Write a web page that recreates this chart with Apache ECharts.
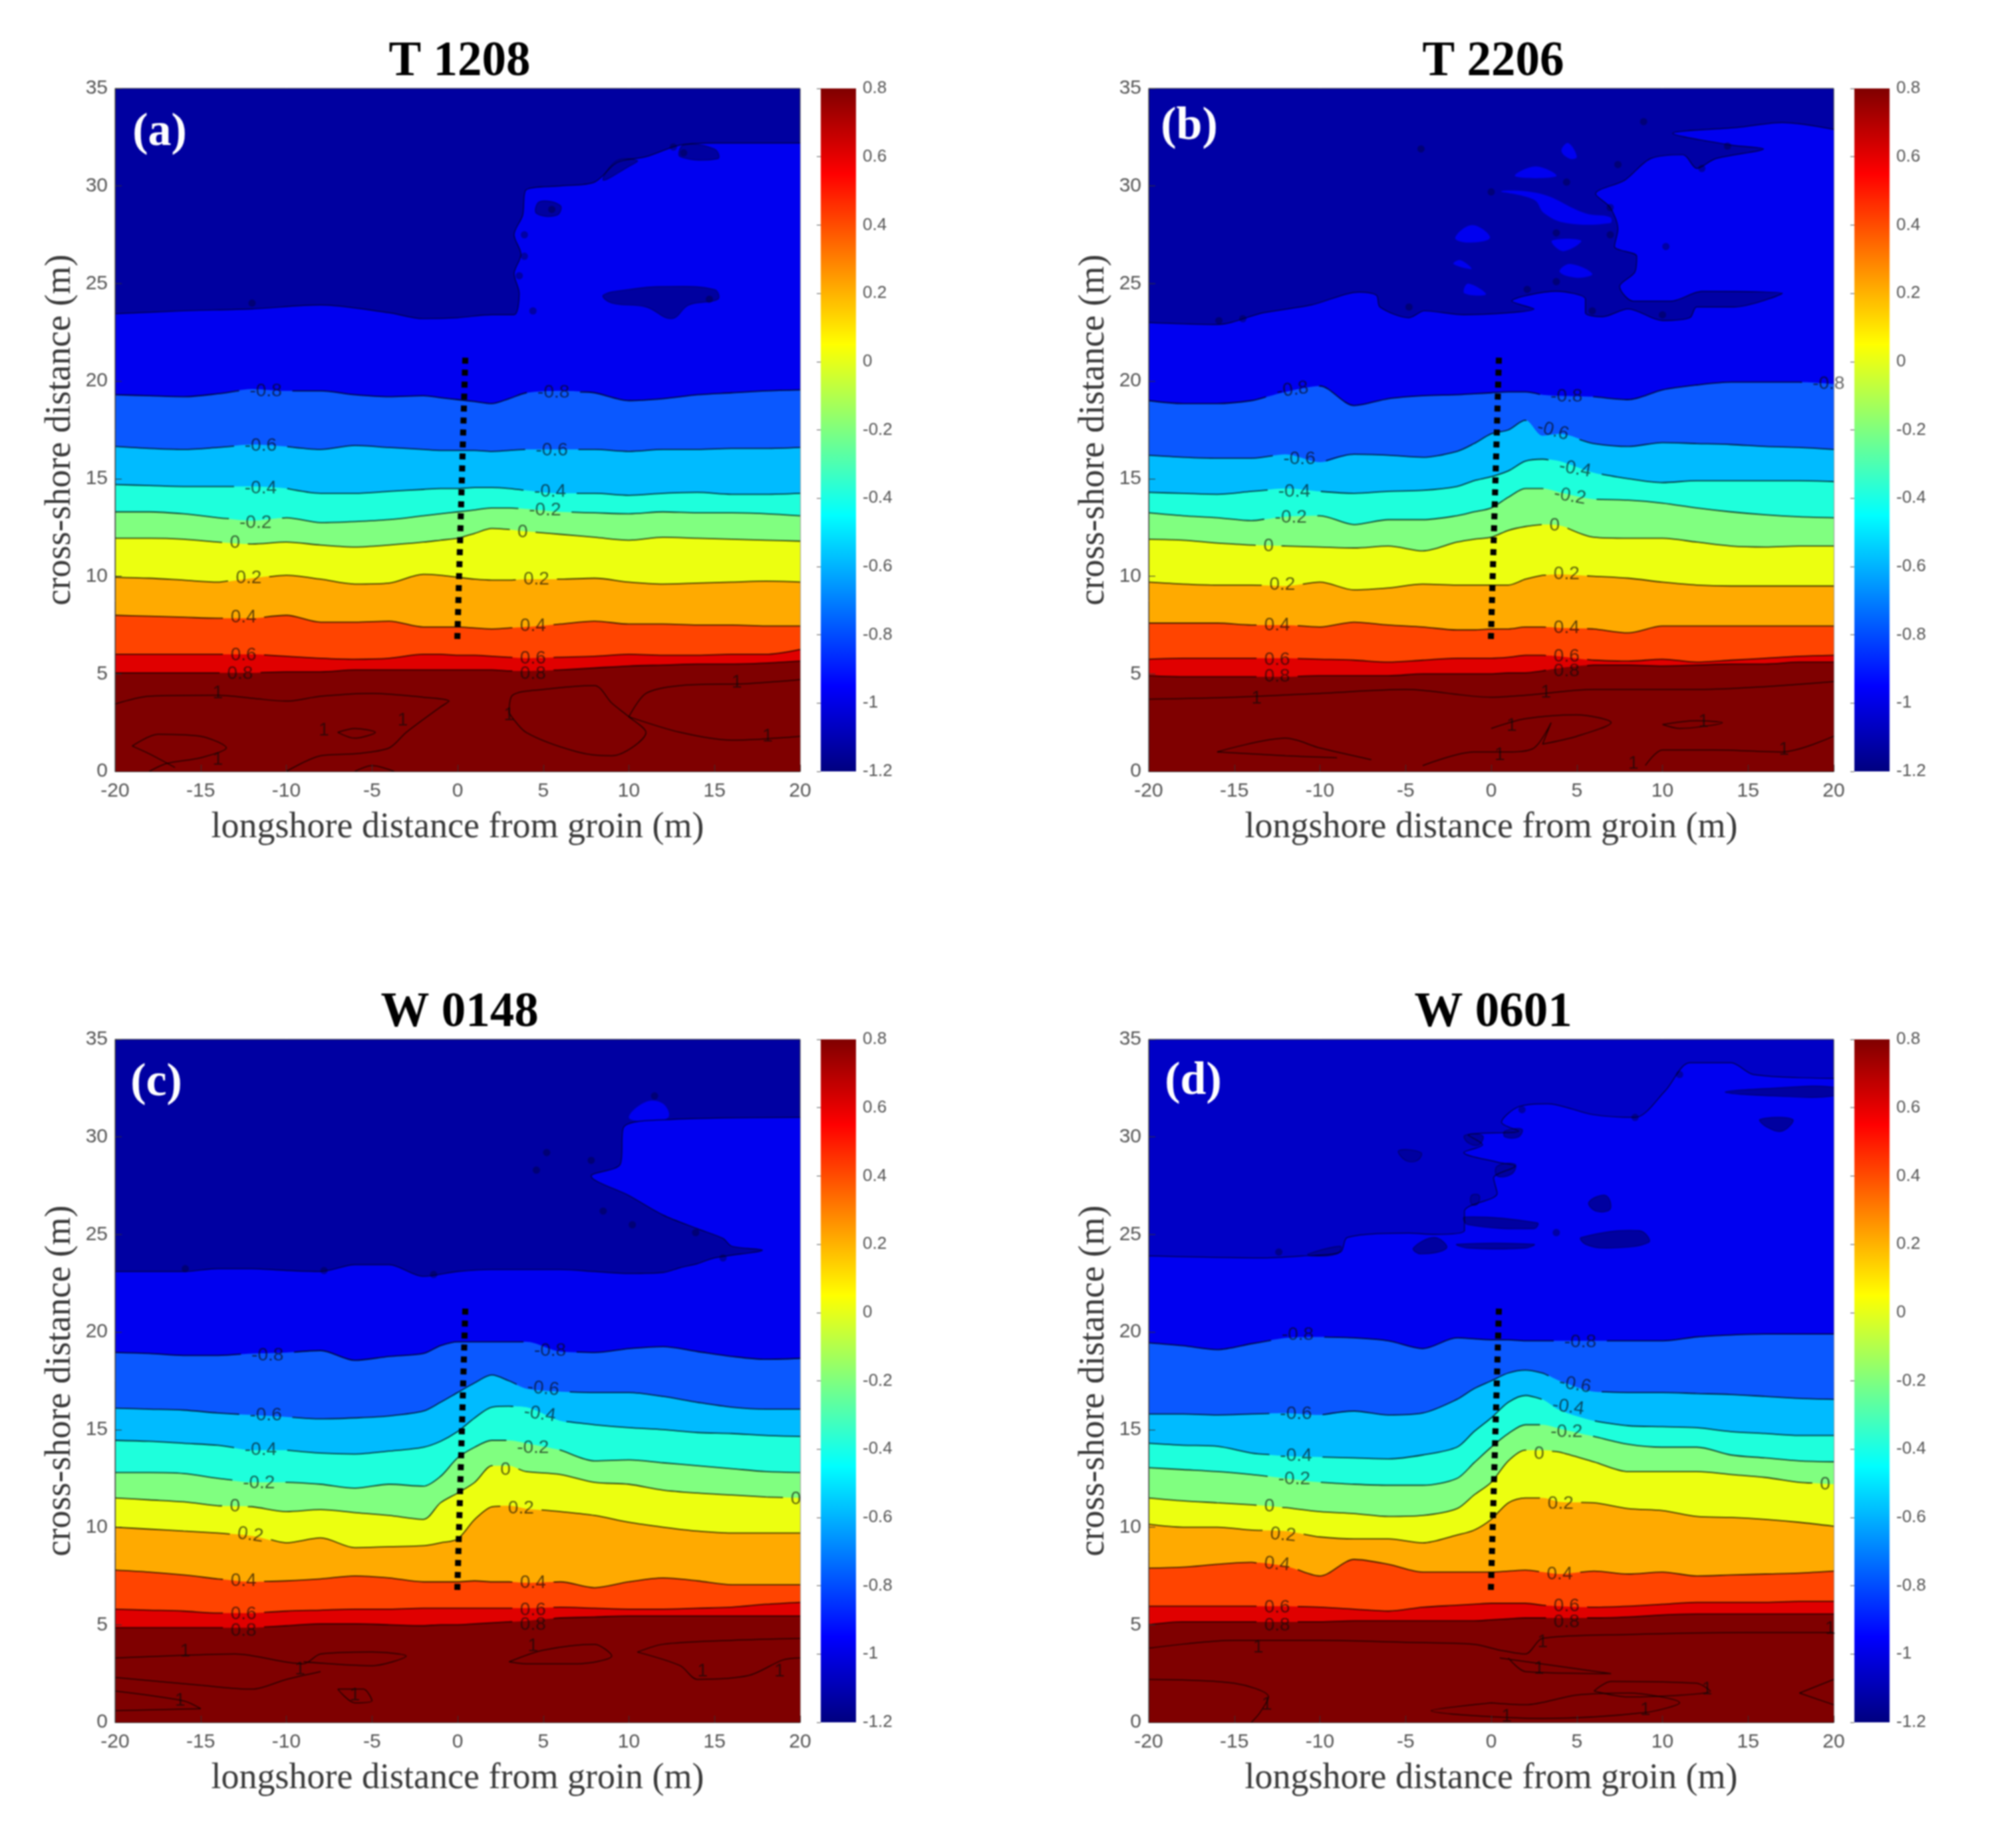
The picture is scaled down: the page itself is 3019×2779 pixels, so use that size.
<!DOCTYPE html>
<html><head><meta charset="utf-8">
<style>html,body{margin:0;padding:0;background:#fff}#c{width:3019px;height:2779px;filter:blur(1px)}</style>
<script src="https://cdn.jsdelivr.net/npm/echarts@6/dist/echarts.min.js"></script>
</head><body><div id="c"></div>
<script>
// shared longshore sample positions (m)
const xs=[-20,-18,-16,-14,-12,-10,-8,-6,-4,-2,-1,0,1,2,3,4,6,8,10,12,14,16,18,20];
const levelNames=['-0.8','-0.6','-0.4','-0.2','0','0.2','0.4','0.6','0.8'];
const navyShades=['#0000a0','#0000a5','#0000a2','#0000c6'];
const islandNavy='#0000a0';
const bandColors=['#0000f0','#0a58ff','#00bbff','#1effdc','#80ff80','#ecff10','#ffaa00','#ff4400','#e00000','#7f0000'];
const cbStops=[[0,'#000080'],[0.125,'#0000ff'],[0.375,'#00ffff'],[0.625,'#ffff00'],[0.875,'#ff0000'],[1,'#800000']];
const xTicks=[-20,20,5], yTicks=[0,35,5], cbTicks=[-1.2,0.8,0.2];

// ---- T 1208 ----
const aM10=[[-20,23.45],[-16,23.6],[-12,23.7],[-8,23.9],[-4,23.5],[-2,23.2],[0,23.25],[2,23.4],[3.3,23.4],[3.6,24.5],[3.3,25.5],[3.7,26.5],[3.3,27.5],[3.8,28.5],[4,29.8],[6,30],[8,30.2],[9.3,31.2],[11,31.5],[13,32.1],[15,32.2],[20,32.2]];
const aM08=[19.3,19.25,19.2,19.35,19.6,19.5,19.5,19.3,19.2,19.25,19.15,19.05,18.95,18.85,19.1,19.4,19.5,19.4,19,19.1,19.3,19.4,19.5,19.55];
const aM06=[16.65,16.55,16.5,16.6,16.75,16.65,16.5,16.7,16.6,16.5,16.45,16.45,16.45,16.4,16.45,16.5,16.5,16.5,16.4,16.5,16.5,16.55,16.55,16.6];
const aM04=[14.7,14.65,14.6,14.6,14.6,14.5,14.25,14.25,14.35,14.45,14.5,14.5,14.55,14.55,14.5,14.4,14.25,14.25,14.15,14.25,14.3,14.2,14.2,14.25];
const aM02=[13.3,13.3,13.2,13,12.85,13,12.75,12.8,12.9,13.1,13.2,13.3,13.4,13.5,13.5,13.45,13.3,13.25,13.2,13.3,13.25,13.25,13.2,13.1];
const aP00=[11.95,11.95,11.9,11.75,11.65,11.75,11.6,11.5,11.6,11.75,11.85,11.95,12.2,12.45,12.4,12.3,12.15,12,11.85,12,11.95,11.9,11.85,11.8];
const aP02=[9.95,9.9,9.8,9.7,9.9,10.05,9.85,9.6,9.65,10.1,10.05,9.95,9.85,9.8,9.8,9.85,9.85,9.9,9.7,9.6,9.65,9.7,9.75,9.7];
const aP04=[8,7.95,7.9,7.85,7.85,8,7.65,7.65,7.7,7.4,7.4,7.4,7.35,7.3,7.35,7.4,7.55,7.7,7.55,7.55,7.5,7.5,7.45,7.45];
const aP06=[6,6,6,6,6,5.9,5.8,5.75,5.8,6,6,5.95,5.95,5.9,5.85,5.8,5.85,5.9,6,5.95,5.95,6,6,6.25];
const aP08=[5.05,5.05,5.05,5.05,5.05,5.1,5.1,5.2,5.2,5.2,5.2,5.2,5.2,5.2,5.15,5.15,5.2,5.3,5.4,5.45,5.5,5.5,5.55,5.65];
const aIslands=[[0,[[8.5,24.4],[10,24.7],[12,24.85],[15,24.7],[15.2,24.2],[13.5,23.9],[12.5,23.2],[11,23.8],[9,24]]],[0,[[4.6,28.6],[5.8,28.5],[6,29],[4.8,29.2]]],[0,[[8.5,30.3],[10,31],[10.5,31.3],[9.3,31.3]]],[0,[[13,31.5],[15.2,31.4],[15,31.9],[13.2,32.1]]]];
const aDots=[[3.9,27.5],[3.9,26.4],[3.6,25.4],[4.4,23.6],[-12,24],[12.6,32],[13.2,31.7],[14.7,24.2],[5.5,28.8]];
const aOnes=[[[-20,3.45],[-18,3.85],[-14,3.9],[-12,3.75],[-10,3.6],[-8,3.85],[-5,4],[-2,3.8],[-0.5,3.6],[-1,3.3],[-3,2],[-4,1.2],[-6,0.9],[-8,0.8],[-10,0]],[[-19,1.3],[-17.5,1.9],[-15,1.8],[-13.5,1.2],[-15,0.7],[-17,0.4],[-18,0]],[[-19,1.3],[-18,0.9],[-16.5,0.2]],[[3,3],[3.2,3.9],[5,4.2],[8,4.4],[9,3.5],[10,2.8],[11,2],[9,0.8],[7,1],[4,2],[3,3]],[[10,2.8],[11,4],[13,4.4],[17,4.5],[20,4.7]],[[10,2.8],[13,2],[16,1.6],[20,1.8]],[[-7,2],[-6,1.7],[-4.8,2],[-6,2.2],[-7,2]],[[-6,0],[-5,0.3],[-3.7,0]]];
const aLabels=[['-0.8',-11.2,19.5],['-0.8',5.6,19.4],['-0.6',-11.5,16.7],['-0.6',5.5,16.45],['-0.4',-11.5,14.5],['-0.4',5.4,14.35],['-0.2',-11.8,12.75],['-0.2',5.1,13.4],['0',-13,11.7],['0',3.8,12.25],['0.2',-12.2,9.9],['0.2',4.6,9.85],['0.4',-12.5,7.9],['0.4',4.4,7.45],['0.6',-12.5,5.95],['0.6',4.4,5.8],['0.8',-12.7,5],['0.8',4.4,5],['1',-14,4],['1',16.3,4.55],['1',18.1,1.8],['1',-7.8,2.1],['1',-14,0.6],['1',-3.2,2.6],['1',3,2.9]];

// ---- T 2206 ----
const bM10=[[-20,23],[-16,22.9],[-13.3,23.5],[-10.5,23.9],[-7.7,24.56],[-6.7,24.4],[-6.5,23.8],[-4.8,23.25],[-3.9,23.6],[-1.6,23.4],[2.5,23.7],[1.2,24.1],[3.8,24.6],[5.5,24.2],[5.5,23.5],[6.5,23.3],[8,23.7],[10,23.1],[11.6,23.25],[12,23.8],[14.2,23.8],[17,24.5],[12.3,24.6],[10.5,24.1],[8.3,24.1],[7.5,24.85],[8.4,25.6],[8.5,26.4],[7.2,26.9],[7.4,27.8],[6.95,28.9],[6.1,29.6],[7.8,30.3],[9.3,31.4],[11.2,31.6],[12,30.9],[13.1,31.4],[15.9,31.9],[14,32.1],[10.6,32.7],[14.4,33],[17,33.25],[20,32.9]];
const bM08=[19,18.85,18.85,19,19.45,19.75,18.75,19.1,19.25,19.3,19.35,19.4,19.45,19.45,19.3,19.25,19.2,19.05,19.55,19.8,19.95,19.95,19.95,19.85];
const bM06=[16.2,16.1,16.05,16.05,16.25,15.85,16.25,16.2,16.1,16.4,16.8,17.3,17.5,18,17.2,17.3,16.8,16.65,16.85,16.8,16.75,16.65,16.6,16.5];
const bM04=[14.3,14.25,14.2,14.35,14.5,14.35,14.25,14.35,14.4,14.6,14.9,15.1,15.4,15.9,16,15.9,15.3,15,14.8,14.9,14.9,14.9,14.9,14.85];
const bM02=[13.25,13.1,13,12.85,13.05,13.1,12.65,12.9,12.9,13.1,13.3,13.5,14.05,14.5,14.5,14.3,13.95,13.9,13.75,13.5,13.3,13.15,13.05,13];
const bP00=[11.9,11.85,11.7,11.6,11.55,11.5,11.45,11.55,11.3,11.75,11.9,12,12.35,12.55,12.65,12.6,12,11.95,11.95,11.75,11.55,11.5,11.55,11.55];
const bP02=[9.7,9.6,9.55,9.55,9.5,9.7,9.3,9.4,9.6,9.55,9.55,9.55,9.55,9.85,10.05,10.1,10,9.9,9.7,9.55,9.5,9.5,9.5,9.5];
const bP04=[7.6,7.6,7.6,7.5,7.5,7.4,7.65,7.5,7.4,7.25,7.25,7.3,7.3,7.4,7.4,7.35,7.3,7.1,7.45,7.45,7.45,7.45,7.45,7.45];
const bP06=[5.75,5.8,5.8,5.8,5.8,5.75,5.7,5.6,5.7,5.8,5.8,5.8,5.85,5.95,5.95,5.9,5.7,5.65,5.75,5.6,5.7,5.8,5.9,5.95];
const bP08=[4.9,4.85,4.85,4.85,4.85,4.9,4.9,4.9,5,5,5,5,5.05,5.05,5.15,5.3,5.45,5.45,5.4,5.45,5.5,5.5,5.6,5.6];
const bIslands=[[1,[[0.57,29.73],[2.9,29.6],[5.5,28.6],[6.95,28.4],[6.95,28.1],[4.4,28.1],[3.1,28.6],[2.5,29.3]]],[1,[[1.4,30.5],[2.6,31],[3.8,30.5]]],[1,[[4.1,31.8],[4.5,32.2],[5,31.5],[4.6,31.4]]],[1,[[-2.1,27.35],[-1.1,28],[-0.07,27.35],[-1.35,27.1]]],[1,[[3.55,27.2],[5.25,27.2],[4.2,26.66]]],[1,[[4,25.6],[4.6,26],[5.9,25.5],[5,25.3]]],[1,[[-1.56,24.5],[-1.35,25],[-0.3,24.45]]],[1,[[-2.2,26],[-1.8,26.2],[-1.15,25.75]]]];
const bDots=[[-4.1,31.9],[8.9,33.3],[0,29.7],[6.95,28.9],[3.8,27.6],[6.95,27.5],[3.8,25.1],[12.3,30.9],[13.8,32.05],[-4.8,23.8],[10,23.4],[5.9,23.6],[2.1,24.7],[4.4,30.2],[7.4,31.1],[10.2,26.9],[-15.9,23.1],[-14.5,23.2]];
const bOnes=[[[-20,3.7],[-15,3.8],[-10,4],[-5,4.2],[0,3.8],[2,3.9],[6,4.2],[12,4.2],[20,4.6]],[[-16,1],[-12,1.7],[-10,1.2],[-7,0.6]],[[-16,1],[-12,0.8],[-9,0.7]],[[0,2.2],[2,2.7],[5,2.9],[7,2.5],[5,1.8],[3,1.4],[3.5,2.5],[2.5,1.2],[1,1],[-1,1],[-4,0.3]],[[10,2.4],[12,2.6],[13.5,2.5],[11,2.2],[10,2.4]],[[9,0.3],[10,1.1],[13,1.1],[17,1],[20,1.8]]];
const bLabels=[['-0.8',-11.6,19.55,8],['-0.8',4.4,19.2],['-0.8',19.7,19.85],['-0.6',-11.2,16],['-0.6',3.6,17.45,-15],['-0.4',-11.5,14.35],['-0.4',4.9,15.5,-10],['-0.2',-11.7,13],['-0.2',4.6,14.1,-10],['0',-13,11.55],['0',3.7,12.6],['0.2',-12.2,9.55],['0.2',4.4,10.1],['0.4',-12.5,7.5],['0.4',4.4,7.35],['0.6',-12.5,5.7],['0.6',4.4,5.9],['0.8',-12.5,4.85],['0.8',4.4,5.15],['1',-13.7,3.75],['1',3.2,4.05],['1',1.2,2.35],['1',12.4,2.55],['1',0.5,0.85],['1',17.1,1.1],['1',8.3,0.4]];

// ---- W 0148 ----
const cM10=[[-20,23.1],[-16,23.1],[-14,23.25],[-12,23.25],[-10,23.15],[-8,23.1],[-6,23.45],[-4,23.45],[-2,22.85],[0,23.1],[2,23.2],[6,23.2],[8,23.1],[10,23],[12,23.05],[13,23.3],[14,23.5],[15,23.8],[17.8,24.2],[16,24.4],[15.5,24.8],[14,25.3],[12,26],[10,27],[7.8,28],[9.5,28.6],[9.7,30.5],[12.6,30.9],[20,31]];
const cM08=[18.95,18.9,18.8,18.8,18.9,18.95,19.05,18.55,18.75,18.9,19.3,19.5,19.5,19.5,19.5,19.5,19,18.95,19.15,19.25,19,18.75,18.6,18.65];
const cM06=[16.1,16.05,16,15.85,15.75,15.65,15.55,15.6,15.7,15.95,16.4,16.9,17.4,17.8,17.5,17.1,16.95,16.9,16.9,16.7,16.4,16.15,16.05,16.05];
const cM04=[14.45,14.4,14.3,14.2,13.95,13.95,13.8,13.75,13.9,14.1,14.4,14.9,15.6,16.15,16.2,16.15,15.45,15.25,15.1,15,14.85,14.8,14.7,14.65];
const cM02=[12.8,12.8,12.75,12.5,12.3,12.3,12.2,12,12.2,12.1,12.6,13.55,14.1,14.45,14.45,14.3,13.95,13.4,13.45,13.3,13.15,13,12.85,12.8];
const cP00=[11.5,11.4,11.3,11.1,11.05,10.8,10.9,10.75,10.6,10.4,11.25,11.75,12.3,13.15,13.15,12.85,12.7,12.3,12.2,11.9,11.75,11.65,11.55,11.5];
const cP02=[10,9.9,9.8,9.7,9.55,9.2,9.45,8.95,9,9.05,9.2,9.4,10.4,11.05,11.1,10.95,10.8,10.6,10.25,10,9.8,9.7,9.7,9.7];
const cP04=[7.8,7.7,7.55,7.35,7.2,7.25,7.35,7.5,7.4,7.2,7.2,7.2,7.25,7.2,7.2,7.15,7.2,6.9,7.2,7.4,7.25,7.05,7.05,7.05];
const cP06=[5.8,5.75,5.7,5.6,5.6,5.7,5.75,5.8,5.8,5.85,5.85,5.85,5.85,5.85,5.85,5.85,5.9,5.85,5.8,5.8,5.85,5.9,6.05,6.15];
const cP08=[4.85,4.85,4.85,4.85,4.85,4.95,5.05,5.05,5,4.95,5,5,5.05,5.1,5.15,5.2,5.35,5.4,5.45,5.45,5.45,5.45,5.45,5.45];
const cIslands=[[1,[[10,31],[11,31.8],[12,31.7],[12.3,31],[11,30.8]]]];
const cDots=[[-15.9,23.25],[-7.8,23.15],[-1.4,22.95],[15.5,23.8],[11.5,32.1],[8.5,26.2],[10.2,25.5],[13.9,25.1],[7.8,28.8],[5.2,29.2],[4.6,28.3]];
const cOnes=[[[-20,3.3],[-17,3.4],[-13,3.5],[-9,3],[-8,3.5],[-5,3.6],[-3,3.4],[-5,2.9],[-9,3.1]],[[-20,2.3],[-15,1.9],[-12,1.7],[-10,2.2],[-8,2.6]],[[-20,0.6],[-15,0.7]],[[-20,1.6],[-16,1.1],[-15,0.7]],[[-7,1.7],[-6,1],[-5,1.1],[-5.5,1.7],[-7,1.7]],[[3,3.1],[5,3.7],[8,4],[9,3.4],[7,3],[4,3],[3,3.1]],[[10.5,3.6],[12,4],[16,4.2],[20,4.3]],[[10.5,3.6],[13,2.9],[14,2.2],[17,2.4],[19,3.2],[20,3.3]]];
const cLabels=[['-0.8',-11.1,18.8],['-0.8',5.4,19.05],['-0.6',-11.2,15.75],['-0.6',5,17.1,-5],['-0.4',-11.5,13.95],['-0.4',4.8,15.8,-8],['-0.2',-11.6,12.25],['-0.2',4.4,14.05],['0',-13,11.05],['0',2.8,12.95],['0',19.75,11.45],['0.2',-12.1,9.6,-8],['0.2',3.7,10.95],['0.4',-12.5,7.25],['0.4',4.4,7.15],['0.6',-12.5,5.55],['0.6',4.4,5.75],['0.8',-12.5,4.7],['0.8',4.4,5],['1',-15.9,3.65],['1',-9.2,2.7],['1',-16.2,1.1],['1',-6,1.4],['1',4.4,3.9],['1',14.3,2.6],['1',18.8,2.6]];

// ---- W 0601 ----
const dM10=[[-20,23.9],[-13.3,23.8],[-11,23.9],[-8.8,24.1],[-8.4,24.85],[-4.8,25.07],[-3.3,25],[-1.56,25.2],[-1.56,26.2],[0.35,27.1],[0.14,27.9],[1.4,28.5],[0.4,28.7],[-1.6,29.2],[-0.5,29.6],[-1.35,30.1],[1.6,30.3],[0.6,30.75],[1.6,31.55],[3.3,31.7],[5.9,31.15],[8.4,31],[10.15,32.35],[11.6,33.8],[14,33.8],[15.3,33.2],[20,33]];
const dM08=[19.45,19.3,19.1,19.4,19.7,19.75,19.7,19.55,19.15,19.7,19.65,19.6,19.6,19.55,19.55,19.55,19.55,19.55,19.55,19.75,19.85,19.9,19.9,19.9];
const dM06=[15.8,15.8,15.75,15.8,15.85,15.75,15.95,15.75,15.85,16.55,17.1,17.5,17.9,18.05,17.9,17.5,16.95,16.9,16.9,16.85,16.8,16.7,16.6,16.55];
const dM04=[14.3,14.2,14.15,13.8,13.65,13.6,13.55,13.5,13.7,14.1,14.9,15.6,16.4,16.75,16.55,16,15.45,15.2,15.15,15.1,14.9,14.8,14.7,14.7];
const dM02=[13.05,12.95,12.85,12.7,12.5,12.3,12.2,12.15,12.15,12.5,13.3,14.1,14.8,15.25,15.25,15.05,14.65,14.25,14.1,14.1,13.7,13.55,13.4,13.35];
const dP00=[11.5,11.35,11.25,11.15,11,10.8,10.7,10.55,10.6,10.95,11.65,12.3,13.4,13.95,13.95,13.85,13.35,12.85,12.85,12.85,12.7,12.55,12.3,12.2];
const dP02=[10.15,10,10,9.85,9.8,9.5,9.4,9.4,9.2,9.6,9.85,10.4,11.25,11.5,11.5,11.3,11.25,10.95,10.85,10.55,10.5,10.4,10.25,10.05];
const dP04=[7.9,7.95,8.1,8.2,8,7.5,8.35,8.1,7.7,7.7,7.7,7.7,7.75,7.8,7.7,7.6,7.75,7.6,7.7,7.5,7.55,7.6,7.65,7.75];
const dP06=[5.95,5.95,5.95,5.95,5.95,5.9,5.8,5.7,5.9,6,6.05,6.1,6.1,6.1,6,5.95,5.9,5.95,6.05,6.15,6.15,6.15,6.2,6.2];
const dP08=[5,5.15,5.15,5.15,5.15,5.15,5.2,5.2,5.2,5.2,5.2,5.25,5.3,5.35,5.35,5.35,5.35,5.4,5.5,5.55,5.55,5.55,5.55,5.55];
const dIslands=[[0,[[13.66,32.3],[16.5,32.5],[20,32.55],[20,32.1],[16.5,32.1]]],[0,[[15.7,30.9],[17.6,30.9],[17,30.3],[16.1,30.5]]],[0,[[5.25,24.85],[8.66,25.2],[9.2,24.6],[6.7,24.3],[5.5,24.5]]],[0,[[5.7,26.66],[6.7,27],[6.95,26.3],[6.1,26.2]]],[0,[[-1.56,25.9],[2.7,25.6],[2.5,25.3],[-1.35,25.5]]],[0,[[-2,24.5],[2.5,24.5],[2,24.3],[-1.35,24.3]]],[0,[[-4.55,24.3],[-3.3,24.85],[-2.6,24.3],[-4.1,24]]],[0,[[-10.7,24],[-8.8,24.4],[-9,24],[-10.5,23.9]]],[0,[[-1.56,30.07],[-0.5,30.07],[-0.7,29.6],[-1.35,29.7]]],[0,[[0.8,30.3],[1.8,30.4],[1.6,30],[0.8,30]]],[0,[[0.35,28.5],[1.4,28.6],[1.2,28.1],[0.35,28]]],[0,[[-1.15,27],[-0.7,27],[-0.8,26.55],[-1.15,26.55]]],[0,[[-5.4,29.3],[-4.1,29.2],[-4.3,28.8],[-5,28.8]]]];
const dDots=[[-12.4,24.1],[11,33.2],[3.8,25.1],[1.8,31.4],[8.4,31]];
const dOnes=[[[-20,3.8],[-15,4.2],[-10,4.2],[-5,4.1],[-1,4],[0.5,3.7],[2,3.5],[3,4.3],[8,4.5],[15,4.6],[20,4.6]],[[-20,2.2],[-15,2],[-13,1.3],[-13.5,0.5],[-14,0]],[[1,3.3],[2,2.6],[7,2.5],[0.5,3.3]],[[0,1],[2,0.9],[5,1.4],[8,1.5],[11,1],[9,0.5],[3,0.2],[-3.5,0.6],[0,1]],[[6,1.6],[7,2.1],[12,2],[12.8,1.6],[8,1.3],[6,1.6]],[[18,1.5],[20,2.2]],[[18,1.5],[20,0.9]]];
const dLabels=[['-0.8',-11.3,19.85],['-0.8',5.2,19.5],['-0.6',-11.4,15.8],['-0.6',4.9,17.3,-10],['-0.4',-11.4,13.65],['-0.4',4.5,16.15,-8],['-0.2',-11.5,12.45],['-0.2',4.4,14.9],['0',-12.95,11.05],['0',2.8,13.75],['0',19.5,12.2],['0.2',-12.15,9.6,-5],['0.2',4.05,11.2],['0.4',-12.5,8.1,-5],['0.4',4,7.6],['0.6',-12.5,5.9],['0.6',4.4,5.95],['0.8',-12.5,4.95],['0.8',4.4,5.15],['1',-13.6,3.85],['1',3,4.1],['1',2.8,2.75],['1',12.6,1.7],['1',-13.1,0.9],['1',0.9,0.3],['1',9,0.65],['1',19.8,4.8]];

const groinA=[[0.45,21.2],[-0.02,6.7]];
const panelTitles=['T 1208','T 2206','W 0148','W 0601'];
const panelTags=['(a)','(b)','(c)','(d)'];

const panels=[
 {box:[173,133],m10:aM10,lv:[aM08,aM06,aM04,aM02,aP00,aP02,aP04,aP06,aP08],isl:aIslands,dots:aDots,ones:aOnes,lab:aLabels,tag:[235,200]},
 {box:[1727,133],m10:bM10,lv:[bM08,bM06,bM04,bM02,bP00,bP02,bP04,bP06,bP08],isl:bIslands,dots:bDots,ones:bOnes,lab:bLabels,tag:[1783,191]},
 {box:[173,1563],m10:cM10,lv:[cM08,cM06,cM04,cM02,cP00,cP02,cP04,cP06,cP08],isl:cIslands,dots:cDots,ones:cOnes,lab:cLabels,tag:[230,1629]},
 {box:[1727,1563],m10:dM10,lv:[dM08,dM06,dM04,dM02,dP00,dP02,dP04,dP06,dP08],isl:dIslands,dots:dDots,ones:dOnes,lab:dLabels,tag:[1789,1627]}
];
const W=1030,H=1027,CBGAP=31,CBW=53;
const SANS='"Liberation Sans",Arial,sans-serif', SERIF='"Liberation Serif","Times New Roman",serif';
const lineCol='rgba(0,0,0,0.72)';
const SMOOTH=0.3;

// cut a contour polyline open around its labels (line breaks where the contour label sits)
function withGaps(pts,gaps){
  const out=[];
  const inside=x=>gaps.some(g=>x>g[0]&&x<g[1]);
  for(let i=0;i<pts.length;i++){
    const p=pts[i];
    if(i>0){
      const q=pts[i-1];
      const cuts=[];
      gaps.forEach(g=>g.forEach(c=>{if((c-q[0])*(c-p[0])<0)cuts.push(c);}));
      cuts.sort((a,b)=>a-b);
      cuts.forEach(c=>{
        const y=q[1]+(p[1]-q[1])*(c-q[0])/(p[0]-q[0]);
        const entering=!inside(c-0.001);
        out.push([c,y]);
        if(entering)out.push([c,null]);
      });
    }
    if(!inside(p[0]))out.push(p);
  }
  return out;
}

const grid=[],xAxis=[],yAxis=[],series=[],title=[];
panels.forEach((P,pi)=>{
  const [L,T]=P.box, gi=grid.length, navy=navyShades[pi];
  grid.push({left:L,top:T,width:W,height:H,show:true,borderColor:'#333',borderWidth:1,backgroundColor:navy,containLabel:false});
  xAxis.push({type:'value',gridIndex:gi,min:xTicks[0],max:xTicks[1],interval:xTicks[2],z:50,
    name:'longshore distance from groin (m)',nameLocation:'middle',nameGap:58,
    nameTextStyle:{fontFamily:SERIF,fontSize:54,color:'#3a3a3a'},
    axisLine:{show:true,onZero:false,lineStyle:{color:'#333',width:1}},axisTick:{show:true,inside:true,length:10,lineStyle:{color:'#333'}},
    splitLine:{show:false},axisLabel:{fontFamily:SANS,fontSize:30,color:'#555',margin:15}});
  yAxis.push({type:'value',gridIndex:gi,min:yTicks[0],max:yTicks[1],interval:yTicks[2],z:50,
    name:'cross-shore distance (m)',nameLocation:'middle',nameGap:55,
    nameTextStyle:{fontFamily:SERIF,fontSize:54,color:'#3a3a3a'},
    axisLine:{show:true,onZero:false,lineStyle:{color:'#333',width:1}},axisTick:{show:true,inside:true,length:10,lineStyle:{color:'#333'}},
    splitLine:{show:false},axisLabel:{fontFamily:SANS,fontSize:30,color:'#555',margin:11}});
  const base={xAxisIndex:gi,yAxisIndex:gi,silent:true,animation:false};
  const area=(data,color)=>series.push(Object.assign({},base,{type:'line',data,symbol:'none',showSymbol:false,smooth:SMOOTH,
    lineStyle:{width:0,opacity:0},areaStyle:{color,opacity:1,origin:'start'},z:2}));
  const stroke=(data,w)=>series.push(Object.assign({},base,{type:'line',data,symbol:'none',showSymbol:false,connectNulls:false,smooth:SMOOTH,
    lineStyle:{width:w||1.8,color:lineCol},z:3}));
  // level -1 then its islands
  area(P.m10,bandColors[0]);
  series.push(Object.assign({},base,{type:'custom',clip:true,z:2,data:P.isl.map((_,i)=>[i]),
    renderItem:(params,api)=>{
      const isl=P.isl[api.value(0)];
      return {type:'polygon',shape:{points:isl[1].map(p=>api.coord(p)),smooth:0.4},
        style:{fill:isl[0]===0?islandNavy:bandColors[0],stroke:isl[0]===0?'rgba(0,0,40,0.5)':'rgba(0,0,0,0)',lineWidth:1.2}};
    }}));
  stroke(P.m10,1.2);
  series.push(Object.assign({},base,{type:'scatter',data:P.dots,symbol:'circle',symbolSize:11,itemStyle:{color:'rgba(0,0,50,0.5)'},z:2}));
  // levels -0.8 .. 0.8, bottom-most drawn last
  P.lv.forEach((ys,k)=>{
    area(xs.map((x,i)=>[x,ys[i]]),bandColors[k+1]);
  });
  P.lv.forEach((ys,k)=>{
    const pts=xs.map((x,i)=>[x,ys[i]]);
    const name=levelNames[k];
    const half=name.length>=4?1.55:(name.length===1?0.75:1.2);
    const gaps=P.lab.filter(l=>l[0]===name).map(l=>[l[1]-half,l[1]+half]);
    stroke(withGaps(pts,gaps));
  });
  // level 1 contours
  P.ones.forEach(o=>stroke(o,1.5));
  // groin
  series.push(Object.assign({},base,{type:'line',data:groinA,symbol:'none',showSymbol:false,
    lineStyle:{color:'#000',width:9,type:[9,9],cap:'butt'},z:4}));
  // contour labels
  series.push(Object.assign({},base,{type:'scatter',symbol:'circle',symbolSize:1,itemStyle:{color:'rgba(0,0,0,0)'},z:5,
    data:P.lab.map(l=>({value:[l[1],l[2],l[0]],label:{rotate:l[3]||0}})),
    label:{show:true,position:'inside',formatter:p=>p.value[2],fontFamily:SANS,fontSize:28,color:'rgba(10,10,10,0.8)'}}));
  // colourbar
  const ci=grid.length;
  grid.push({left:L+W+CBGAP,top:T,width:CBW,height:H,show:false,containLabel:false});
  xAxis.push({type:'value',gridIndex:ci,min:0,max:1,show:false});
  yAxis.push({type:'value',gridIndex:ci,position:'right',min:cbTicks[0],max:cbTicks[1],interval:cbTicks[2],z:50,
    axisLine:{show:false},axisTick:{show:true,inside:true,length:6,lineStyle:{color:'#555'}},splitLine:{show:false},
    axisLabel:{fontFamily:SANS,fontSize:26,color:'#555',margin:10}});
  series.push({type:'custom',xAxisIndex:ci,yAxisIndex:ci,silent:true,animation:false,z:2,data:[[0,cbTicks[0],1,cbTicks[1]]],
    renderItem:(params,api)=>{
      const a=api.coord([api.value(0),api.value(3)]), b=api.coord([api.value(2),api.value(1)]);
      return {type:'rect',shape:{x:a[0],y:a[1],width:b[0]-a[0],height:b[1]-a[1]},
        style:{fill:new echarts.graphic.LinearGradient(0,1,0,0,cbStops.map(s=>({offset:s[0],color:s[1]})))}};
    }});
  // headings
  const top=pi<2?53:1483;
  title.push({text:panelTitles[pi],left:L+513,top,textAlign:'center',textStyle:{fontFamily:SERIF,fontWeight:'bold',fontSize:73,color:'#000'},z:60});
  title.push({text:panelTags[pi],left:P.tag[0],top:P.tag[1]-40,textAlign:'center',textStyle:{fontFamily:SERIF,fontWeight:'bold',fontSize:70,color:'#fff'},z:60});
});
const chart=echarts.init(document.getElementById('c'),null,{renderer:'canvas',width:3019,height:2779});
chart.setOption({animation:false,backgroundColor:'#fff',title,grid,xAxis,yAxis,series});
</script></body></html>
